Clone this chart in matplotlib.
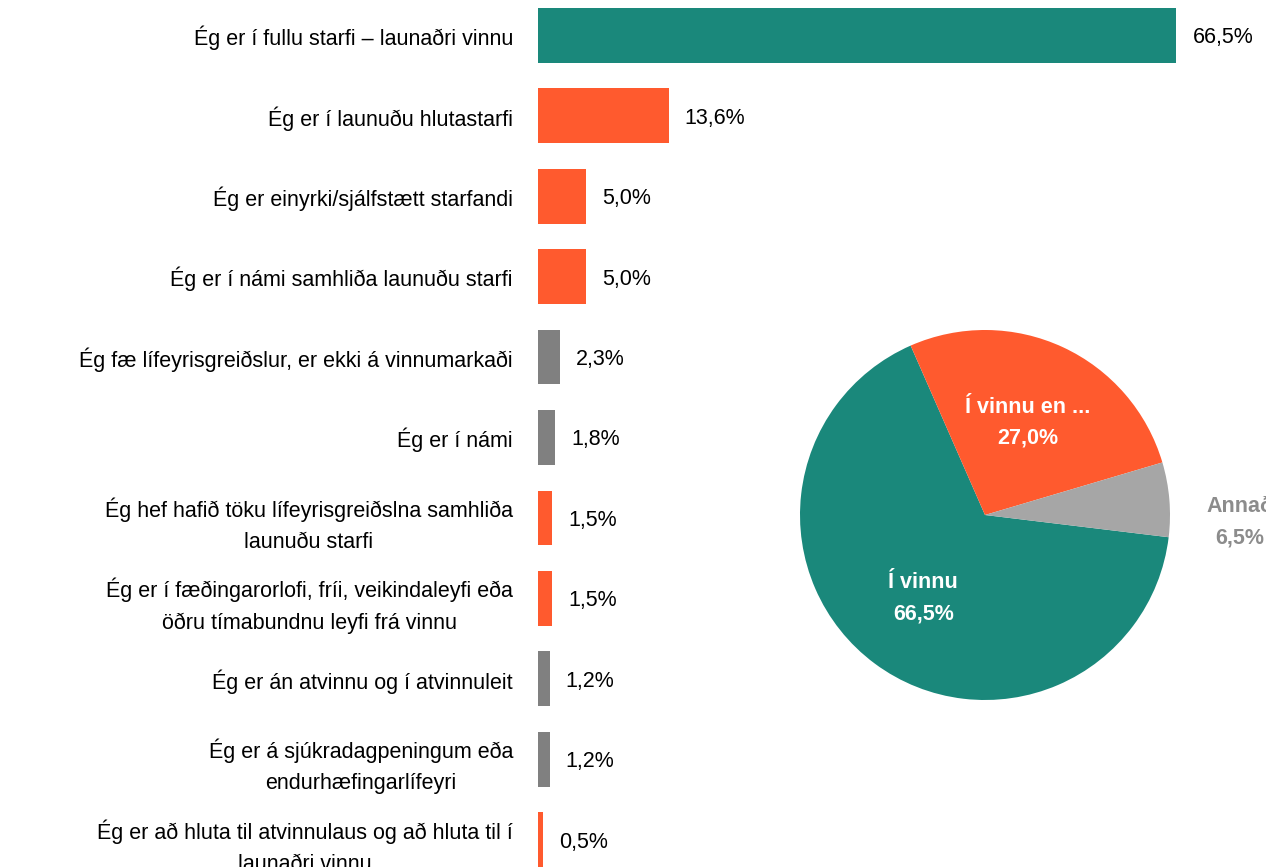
import numpy as np
import matplotlib.pyplot as plt

plt.rcParams['font.family'] = ['Liberation Sans', 'DejaVu Sans']

categories = [
    "Ég er í fullu starfi – launaðri vinnu",
    "Ég er í launuðu hlutastarfi",
    "Ég er einyrki/sjálfstætt starfandi",
    "Ég er í námi samhliða launuðu starfi",
    "Ég fæ lífeyrisgreiðslur, er ekki á vinnumarkaði",
    "Ég er í námi",
    "Ég hef hafið töku lífeyrisgreiðslna samhliða\nlaunuðu starfi",
    "Ég er í fæðingarorlofi, fríi, veikindaleyfi eða\nöðru tímabundnu leyfi frá vinnu",
    "Ég er án atvinnu og í atvinnuleit",
    "Ég er á sjúkradagpeningum eða\nendurhæfingarlífeyri",
    "Ég er að hluta til atvinnulaus og að hluta til í\nlaunaðri vinnu",
]
values = [66.5, 13.6, 5.0, 5.0, 2.3, 1.8, 1.5, 1.5, 1.2, 1.2, 0.5]
groups = ["full", "part", "part", "part", "other", "other",
          "part", "part", "other", "other", "part"]

pie_labels = ["Í vinnu", "Í vinnu en ...", "Annað"]
pie_values = [66.5, 27.0, 6.5]

teal = "#1a887b"
orange = "#ff5a2e"
grey_bar = "#808080"
grey_pie = "#a6a6a6"
bar_colors = {"full": teal, "part": orange, "other": grey_bar}


def pct(v):
    return f"{v:.1f}%".replace(".", ",")


fig = plt.figure(figsize=(12.66, 8.67), dpi=100)

# bar chart
ax = fig.add_axes([538 / 1266, 0, 728 / 1266, 859 / 867])
y = np.arange(len(categories))
ax.barh(y, values, height=0.68, color=[bar_colors[g] for g in groups])
ax.set_xlim(0, 728 / 9.6)
ax.set_ylim(len(categories) - 1 + 0.34, -0.34)
ax.set_yticks(y)
ax.set_yticklabels(categories, fontsize=15.5, multialignment="center", linespacing=1.6)
ax.tick_params(axis="y", length=0, pad=18)
ax.set_xticks([])
for s in ax.spines.values():
    s.set_visible(False)
for yi, v in zip(y, values):
    ax.annotate(pct(v), (v, yi), xytext=(16, 0),
                textcoords="offset pixels", va="center_baseline", ha="left", fontsize=15.5)

# pie chart
pax = fig.add_axes([(985 - 185) / 1266, (867 - 515 - 185) / 867, 370 / 1266, 370 / 867])
wedges, _ = pax.pie(pie_values, colors=[teal, orange, grey_pie], startangle=-6.9,
                    counterclock=False)
pax.set_xlim(-1, 1)
pax.set_ylim(-1, 1)
label_r = [0.56, 0.55, 1.38]
label_shift = [0, 0, -6.4]
label_c = ["white", "white", "#8c8c8c"]
for w, lab, v, r, d, c in zip(wedges, pie_labels, pie_values, label_r, label_shift, label_c):
    ang = np.deg2rad((w.theta1 + w.theta2) / 2 + d)
    pax.text(r * np.cos(ang), r * np.sin(ang), f"{lab}\n{pct(v)}",
             ha="center", va="center", fontsize=15.5, fontweight="bold", color=c,
             linespacing=1.65, clip_on=False)

fig.savefig("out.png", dpi=100)
